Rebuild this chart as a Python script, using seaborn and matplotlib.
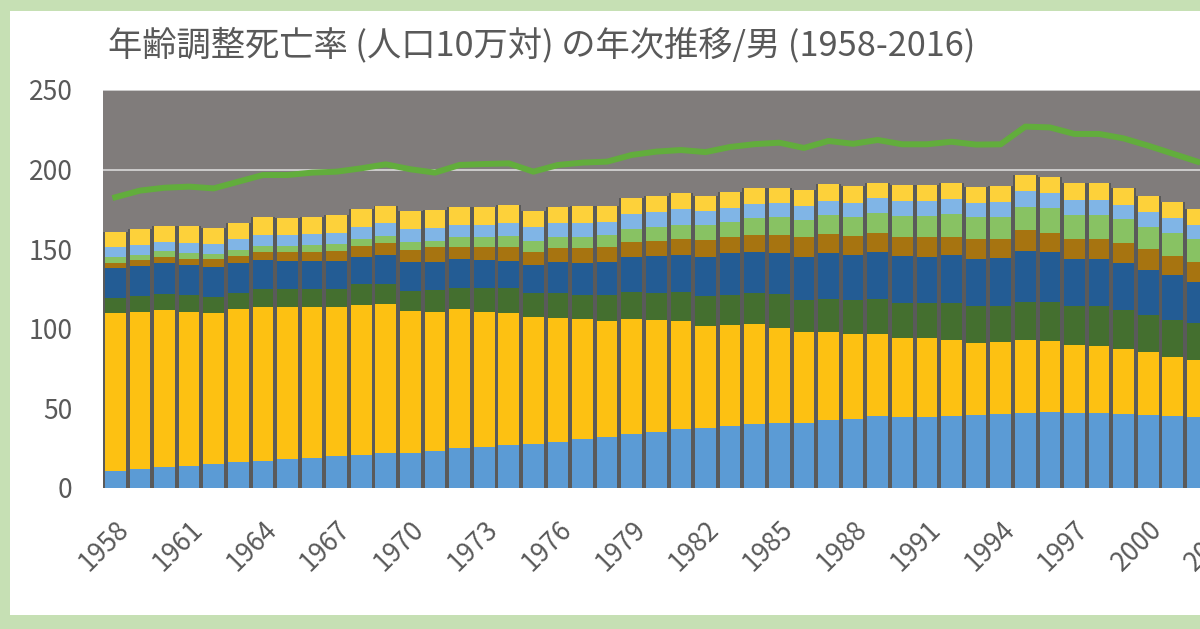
import numpy as np
import matplotlib
matplotlib.use("Agg")
import matplotlib.pyplot as plt
from matplotlib.patches import Rectangle
import seaborn as sns

# ---------------- data ----------------
years = list(range(1958, 2003))

seg_bottom_blue = [10.9, 11.9, 13.0, 14.0, 15.1, 16.1, 16.8, 18.0, 19.1, 20.1,
                   20.7, 21.8, 22.2, 23.2, 25.3, 25.5, 27.0, 27.6, 29.1, 30.8,
                   32.0, 33.9, 35.2, 36.9, 37.9, 38.9, 40.2, 41.0, 40.8, 42.7,
                   43.1, 45.1, 44.8, 44.8, 45.4, 45.9, 46.5, 46.9, 47.7, 46.9,
                   46.9, 46.5, 45.9, 45.2, 44.8]
seg_gold = [98.8, 98.9, 98.8, 96.8, 95.0, 96.1, 97.1, 95.9, 94.4, 93.4,
            94.5, 94.0, 88.8, 87.4, 86.9, 85.3, 82.7, 80.0, 77.9, 75.2,
            72.9, 72.5, 70.1, 68.3, 63.9, 63.7, 62.8, 59.3, 57.0, 55.0,
            53.4, 51.6, 49.6, 49.2, 47.6, 45.0, 45.0, 45.9, 44.4, 42.9,
            42.3, 41.0, 39.3, 37.3, 35.6]
seg_dark_green = [9.4, 10.0, 10.1, 10.4, 10.1, 10.5, 10.9, 11.1, 11.3, 11.5,
                  12.7, 12.3, 12.9, 13.8, 13.6, 14.6, 16.1, 15.1, 15.7, 15.2,
                  16.3, 16.9, 17.4, 18.1, 18.8, 18.6, 19.7, 21.3, 20.3, 20.8,
                  21.6, 21.8, 22.0, 22.4, 23.4, 23.4, 23.0, 24.2, 24.5, 24.5,
                  25.1, 24.3, 23.5, 23.0, 23.0]
seg_dark_blue = [18.9, 18.6, 19.2, 18.9, 18.8, 18.4, 18.4, 17.6, 18.0, 17.8,
                 17.4, 18.3, 18.3, 17.8, 17.8, 17.8, 17.0, 17.4, 19.5, 20.3,
                 21.0, 22.0, 23.0, 23.1, 24.7, 26.2, 25.8, 25.8, 27.2, 28.9,
                 28.3, 29.6, 29.3, 28.9, 30.0, 29.3, 29.8, 32.1, 31.9, 29.5,
                 29.5, 29.3, 28.2, 28.3, 26.2]
seg_brown = [3.1, 3.8, 4.2, 3.7, 4.6, 4.8, 5.3, 5.4, 5.7, 6.3,
             6.7, 7.3, 7.3, 9.0, 8.0, 8.0, 8.4, 8.3, 8.3, 9.0,
             9.0, 9.4, 9.7, 10.0, 10.5, 10.5, 10.4, 11.5, 12.6, 12.1,
             11.9, 12.1, 12.2, 12.6, 11.5, 12.6, 11.9, 13.0, 11.9, 12.4,
             12.4, 12.6, 13.0, 11.9, 12.6]
seg_light_green = [3.8, 3.2, 3.6, 4.0, 3.4, 3.6, 3.7, 4.2, 4.1, 4.2,
                   4.4, 4.6, 5.2, 4.0, 6.3, 6.3, 7.1, 7.0, 7.4, 7.4,
                   7.7, 7.8, 8.8, 8.8, 9.4, 9.4, 10.5, 11.1, 10.4, 12.0,
                   12.1, 12.3, 13.2, 13.2, 14.2, 13.8, 14.2, 14.6, 15.3, 15.3,
                   15.3, 15.1, 14.3, 14.3, 14.0]
seg_light_blue = [6.3, 6.2, 5.8, 5.9, 6.1, 6.7, 6.7, 6.7, 6.9, 7.1,
                  7.8, 7.9, 7.8, 7.9, 7.3, 7.7, 8.4, 8.3, 8.8, 8.3,
                  8.4, 9.6, 9.0, 9.8, 8.8, 8.8, 9.0, 8.8, 9.0, 8.8,
                  8.8, 9.5, 9.2, 9.2, 9.2, 9.2, 9.5, 9.9, 9.8, 9.4,
                  9.4, 9.0, 9.4, 9.4, 9.0]
seg_top_yellow = [9.4, 10.3, 9.7, 10.7, 10.2, 10.5, 11.1, 10.5, 10.5, 10.9,
                  11.3, 11.1, 11.7, 11.3, 11.1, 11.5, 11.1, 10.5, 10.0, 10.9,
                  10.0, 9.8, 10.2, 10.1, 9.6, 10.0, 9.8, 9.9, 9.9, 10.4,
                  10.5, 9.8, 10.0, 10.0, 10.1, 10.1, 9.8, 10.0, 10.1, 10.5,
                  10.5, 10.9, 10.0, 10.0, 10.1]
line_values = [182.6, 186.8, 188.6, 189.3, 188.2, 192.4, 196.6, 196.6, 198.1, 198.7,
               200.8, 203.3, 200.2, 198.1, 202.9, 203.5, 203.9, 198.7, 202.9, 204.4,
               205.0, 209.2, 211.3, 212.3, 211.0, 214.2, 216.0, 216.9, 213.6, 218.0,
               216.2, 218.6, 215.9, 215.9, 217.5, 215.7, 215.9, 227.0, 226.5, 222.4,
               222.4, 219.6, 215.0, 210.0, 205.0]

tick_years = list(range(1958, 2004, 3))
y_ticks = [0, 50, 100, 150, 200, 250]
title_text = "年齢調整死亡率 (人口10万対) の年次推移/男 (1958-2016)"

seg_colors = ['#5b9bd5', '#fdc112', '#446f2f', '#235c94',
              '#a77410', '#88c263', '#80b5e6', '#fdd13a']
line_color = '#62ad3c'
text_color = '#595959'

# ---------------- figure ----------------
plt.rcParams['font.family'] = ['Noto Sans CJK JP', 'DejaVu Sans']

fig = plt.figure(figsize=(12, 6.29), dpi=100, facecolor='#c6e0b4')
fig.patches.append(Rectangle((10 / 1200, 14 / 629), 1.0, 604 / 629,
                             transform=fig.transFigure, facecolor='white',
                             edgecolor='none', zorder=-10))

ax = fig.add_axes([103 / 1200, 141 / 629, 1451 / 1200, 398 / 629])
ax.set_zorder(1)
ax.set_facecolor('#807c7b')

segments = [seg_bottom_blue, seg_gold, seg_dark_green, seg_dark_blue,
            seg_brown, seg_light_green, seg_light_blue, seg_top_yellow]
cum = np.cumsum(np.array(segments), axis=0)

# dark side-shadow behind each bar
sns.barplot(x=years, y=cum[-1], color='#5a5a5a', width=1.0, native_scale=True,
            errorbar=None, saturation=1, ax=ax)
for k in range(len(segments) - 1, -1, -1):
    sns.barplot(x=years, y=cum[k], color=seg_colors[k], width=0.84,
                native_scale=True, errorbar=None, saturation=1, ax=ax)

sns.lineplot(x=years, y=line_values, color=line_color, linewidth=4.3,
             ax=ax, zorder=5)

ax.set_xlim(1957.5, 2016.5)
ax.set_ylim(0, 250)
ax.set_yticks(y_ticks)
ax.set_yticklabels([str(v) for v in y_ticks])
ax.set_xticks(tick_years)
ax.set_xticklabels([str(v) for v in tick_years])
ax.set_xlabel('')
ax.set_ylabel('')
ax.grid(axis='y', color='#d2d2d2', linewidth=1.3)
ax.grid(axis='x', visible=False)
ax.set_axisbelow(True)
for s in ax.spines.values():
    s.set_visible(False)
ax.tick_params(axis='both', length=0, labelsize=19, colors=text_color)
ax.tick_params(axis='y', pad=22)
ax.tick_params(axis='x', pad=20)
plt.setp(ax.get_xticklabels(), rotation=45, ha='right', va='top',
         rotation_mode='anchor')

fig.text(108 / 1200, 1 - 45 / 629, title_text, fontsize=24.7, color=text_color,
         ha='left', va='center')

fig.savefig('out.png', dpi=100, facecolor=fig.get_facecolor())
